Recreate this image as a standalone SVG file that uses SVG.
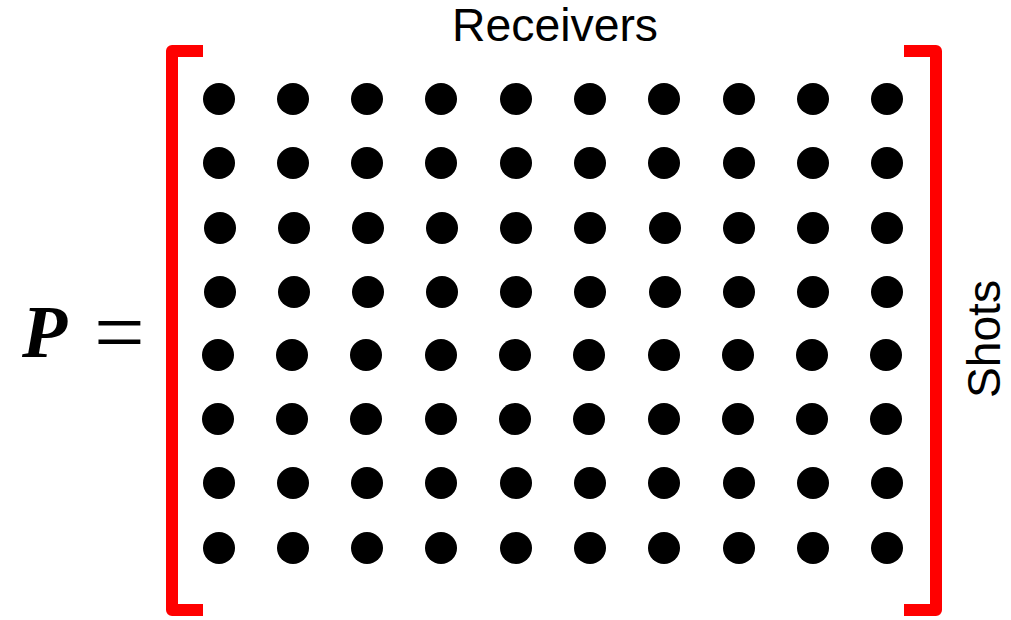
<svg xmlns="http://www.w3.org/2000/svg" width="1011" height="620" viewBox="0 0 1011 620">
<style>
.br{fill:none;stroke:#ff0000;stroke-width:12;stroke-linejoin:round;stroke-linecap:butt}
.lbl{font-family:"Liberation Sans",Arial,sans-serif;font-size:46px;fill:#000}
.d{fill:#000}
</style>
<defs><circle id="dot" r="16" class="d"/></defs>
<rect width="1011" height="620" fill="#fff"/>
<g id="equation">
<text x="22" y="357" font-family="'Liberation Serif','Times New Roman',serif" font-weight="bold" font-style="italic" font-size="74">P</text>
<text x="94" y="363" font-family="'Liberation Serif','Times New Roman',serif" font-size="90">=</text>
</g>
<g id="brackets">
<path class="br" d="M203,51 H172 V610 H203"/>
<path class="br" d="M904,51 H936 V610 H904"/>
</g>
<g id="receivers-label"><text class="lbl" x="452" y="41" textLength="206" lengthAdjust="spacingAndGlyphs">Receivers</text></g>
<g id="shots-label"><text class="lbl" transform="translate(1000,398) rotate(-90)" x="0" y="0" textLength="118" lengthAdjust="spacingAndGlyphs">Shots</text></g>
<g id="matrix">
<g id="row1" transform="translate(0,99)"><use href="#dot" x="219"/><use href="#dot" x="293"/><use href="#dot" x="367"/><use href="#dot" x="441"/><use href="#dot" x="516"/><use href="#dot" x="590"/><use href="#dot" x="664"/><use href="#dot" x="739"/><use href="#dot" x="813"/><use href="#dot" x="887"/></g>
<g id="row2" transform="translate(0,163)"><use href="#dot" x="219"/><use href="#dot" x="293"/><use href="#dot" x="367"/><use href="#dot" x="441"/><use href="#dot" x="516"/><use href="#dot" x="590"/><use href="#dot" x="664"/><use href="#dot" x="739"/><use href="#dot" x="813"/><use href="#dot" x="887"/></g>
<g id="row3" transform="translate(0,228)"><use href="#dot" x="220"/><use href="#dot" x="294"/><use href="#dot" x="368"/><use href="#dot" x="442"/><use href="#dot" x="516"/><use href="#dot" x="590"/><use href="#dot" x="665"/><use href="#dot" x="739"/><use href="#dot" x="813"/><use href="#dot" x="887"/></g>
<g id="row4" transform="translate(0,292)"><use href="#dot" x="220"/><use href="#dot" x="294"/><use href="#dot" x="368"/><use href="#dot" x="442"/><use href="#dot" x="516"/><use href="#dot" x="590"/><use href="#dot" x="665"/><use href="#dot" x="739"/><use href="#dot" x="813"/><use href="#dot" x="887"/></g>
<g id="row5" transform="translate(0,355)"><use href="#dot" x="218"/><use href="#dot" x="292"/><use href="#dot" x="366"/><use href="#dot" x="441"/><use href="#dot" x="515"/><use href="#dot" x="589"/><use href="#dot" x="664"/><use href="#dot" x="738"/><use href="#dot" x="812"/><use href="#dot" x="886"/></g>
<g id="row6" transform="translate(0,419)"><use href="#dot" x="218"/><use href="#dot" x="292"/><use href="#dot" x="366"/><use href="#dot" x="441"/><use href="#dot" x="515"/><use href="#dot" x="589"/><use href="#dot" x="664"/><use href="#dot" x="738"/><use href="#dot" x="812"/><use href="#dot" x="886"/></g>
<g id="row7" transform="translate(0,483)"><use href="#dot" x="219"/><use href="#dot" x="293"/><use href="#dot" x="367"/><use href="#dot" x="441"/><use href="#dot" x="516"/><use href="#dot" x="590"/><use href="#dot" x="664"/><use href="#dot" x="739"/><use href="#dot" x="813"/><use href="#dot" x="887"/></g>
<g id="row8" transform="translate(0,548)"><use href="#dot" x="219"/><use href="#dot" x="293"/><use href="#dot" x="367"/><use href="#dot" x="441"/><use href="#dot" x="516"/><use href="#dot" x="590"/><use href="#dot" x="664"/><use href="#dot" x="739"/><use href="#dot" x="813"/><use href="#dot" x="887"/></g>
</g>
</svg>
